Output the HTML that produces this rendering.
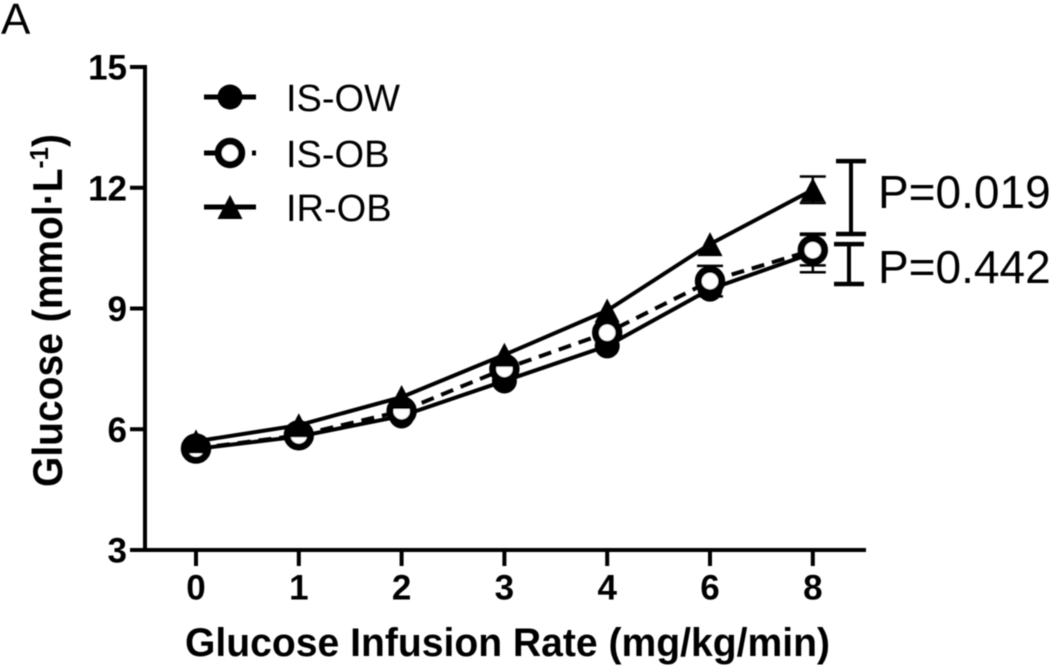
<!DOCTYPE html>
<html lang="en">
<head>
<meta charset="utf-8">
<title>Glucose vs Glucose Infusion Rate</title>
<style>
html,body{margin:0;padding:0;background:#fff;width:1050px;height:666px;overflow:hidden}
svg{display:block;font-family:"Liberation Sans",sans-serif}
</style>
</head>
<body>
<svg id="chart" xmlns="http://www.w3.org/2000/svg" width="1050" height="666" viewBox="0 0 1050 666">
  <defs><filter id="soft" x="-2%" y="-2%" width="104%" height="104%"><feGaussianBlur stdDeviation="0.45"/></filter></defs>
  <g id="root" filter="url(#soft)">
    <text x="1" y="34" font-size="44" fill="#000">A</text>
    <text transform="translate(62,487) rotate(-90)" font-size="42" font-weight="bold" fill="#000" textLength="353" lengthAdjust="spacingAndGlyphs">Glucose (mmol·L<tspan font-size="26" dy="-14">-1</tspan><tspan dy="14">)</tspan></text>
    <text x="185" y="656" font-size="40" font-weight="bold" fill="#000" textLength="645" lengthAdjust="spacingAndGlyphs">Glucose Infusion Rate (mg/kg/min)</text>
    <text x="878" y="208" font-size="46" fill="#000">P=0.019</text>
    <text x="878" y="283" font-size="46" fill="#000">P=0.442</text>
  </g>
</svg>
<script>
const categories = ['0', '1', '2', '3', '4', '6', '8'];
const yTicks = [3, 6, 9, 12, 15];
const isOw = [5.51, 5.82, 6.33, 7.2, 8.07, 9.48, 10.38];
const isOb = [5.52, 5.85, 6.45, 7.5, 8.4, 9.68, 10.45];
const irOb = [5.7, 6.1, 6.8, 7.85, 8.95, 10.6, 11.95];
const isOwErr = [0, 0, 0, 0, 0, 0, 0.48];
const isObErr = [0, 0, 0, 0, 0, 0.38, 0.38];
const irObErr = [0, 0, 0, 0, 0, 0, 0.33];
const upperBracket = [10.85, 12.66];
const lowerBracket = [9.61, 10.6];

const NS = 'http://www.w3.org/2000/svg';
const root = document.getElementById('root');
const x = i => 196 + i * 102.8;
const y = v => 550 - (v - 3) * 40.25;

function mk(tag, attrs) {
  const el = document.createElementNS(NS, tag);
  for (const k in attrs) el.setAttribute(k, attrs[k]);
  root.appendChild(el);
  return el;
}
function seg(x1, y1, x2, y2, w) {
  return mk('line', {x1: x1, y1: y1, x2: x2, y2: y2, stroke: '#000', 'stroke-width': w});
}
function tri(cx, cy) {
  return mk('polygon', {points: (cx - 12.5) + ',' + (cy + 12) + ' ' + (cx + 12.5) + ',' + (cy + 12) + ' ' + cx + ',' + (cy - 12), fill: '#000'});
}
function openCircle(cx, cy) {
  return mk('circle', {cx: cx, cy: cy, r: 11.7, fill: '#fff', stroke: '#000', 'stroke-width': 7});
}
function solidCircle(cx, cy) {
  return mk('circle', {cx: cx, cy: cy, r: 12.5, fill: '#000'});
}

// axes
let e = seg(145, 65, 145, 552, 4);


e = seg(130, 550, 866, 550, 4);



yTicks.forEach(t => {
  const tick = seg(130, y(t), 145, y(t), 4);
  
  
  const lab = mk('text', {x: 127, y: y(t) + 12.5, 'text-anchor': 'end', 'font-size': 35, 'font-weight': 'bold', fill: '#000'});
  lab.textContent = t;
  
  
});
categories.forEach((c, i) => {
  const tick = seg(x(i), 550, x(i), 566, 4);
  
  
  const lab = mk('text', {x: x(i), y: 599.5, 'text-anchor': 'middle', 'font-size': 35, 'font-weight': 'bold', fill: '#000'});
  lab.textContent = c;
  
  
});

function poly(vals, dash) {
  const p = mk('polyline', {points: vals.map((v, i) => x(i) + ',' + y(v)).join(' '), fill: 'none', stroke: '#000', 'stroke-width': 4});
  if (dash) p.setAttribute('stroke-dasharray', dash);
  return p;
}
function errs(vals, errors) {
  vals.forEach((v, i) => {
    if (!errors[i]) return;
    const g = [seg(x(i), y(v - errors[i]), x(i), y(v + errors[i]), 2.5),
      seg(x(i) - 13, y(v + errors[i]), x(i) + 13, y(v + errors[i]), 2.5),
      seg(x(i) - 13, y(v - errors[i]), x(i) + 13, y(v - errors[i]), 2.5)];
    g.forEach(l => {
      
      
    });
  });
}

// series IS-OW
errs(isOw, isOwErr);
e = poly(isOw);


isOw.forEach((v, i) => {
  const m = solidCircle(x(i), y(v));
  
  
});
// series IS-OB
errs(isOb, isObErr);
e = poly(isOb, '13 8');


isOb.forEach((v, i) => {
  const m = openCircle(x(i), y(v));
  
  
});
// series IR-OB
errs(irOb, irObErr);
e = poly(irOb);


irOb.forEach((v, i) => {
  const m = tri(x(i), y(v));
  
  
});

// significance brackets
[[upperBracket, 851, 15, 'upper'], [lowerBracket, 849, 15, 'lower']].forEach(b => {
  const parts = [seg(b[1], y(b[0][0]), b[1], y(b[0][1]), 4),
    seg(b[1] - b[2], y(b[0][0]), b[1] + b[2], y(b[0][0]), 4.5),
    seg(b[1] - b[2], y(b[0][1]), b[1] + b[2], y(b[0][1]), 4.5)];
  parts.forEach(l => {
    
    
  });
});

// legend
const legendNames = ['IS-OW', 'IS-OB', 'IR-OB'];
const legendY = [97, 153, 207];
legendNames.forEach((n, i) => {
  const ly = legendY[i];
  const line = i === 1 ? mk('line', {x1: 204, y1: ly, x2: 256, y2: ly, stroke: '#000', 'stroke-width': 5, 'stroke-dasharray': '13 8 13 14 6 8'}) : seg(204, ly, 256, ly, 5);
  
  
  const m = i === 0 ? solidCircle(230, ly) : i === 1 ? openCircle(230, ly) : tri(230, ly);
  
  
  const t = mk('text', {x: 286, y: ly + 14, 'font-size': 38, fill: '#000'});
  t.textContent = n;
  
  
});
</script>
</body>
</html>
